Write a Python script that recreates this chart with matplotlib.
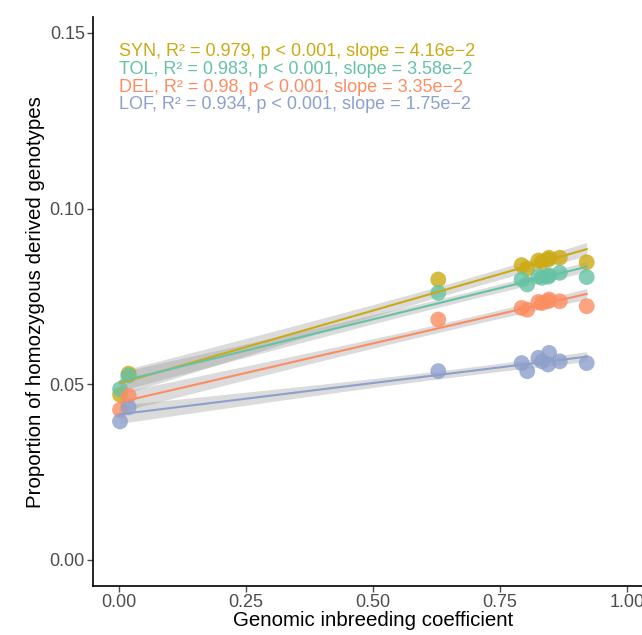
import numpy as np
import matplotlib.pyplot as plt

plt.rcParams['font.family'] = ['Liberation Sans', 'DejaVu Sans']

# genomic inbreeding coefficient per sample
f_inb = [0.003, 0.020, 0.629, 0.793, 0.804, 0.826, 0.833, 0.847, 0.845, 0.868, 0.921]

groups = ['SYN', 'TOL', 'DEL', 'LOF']
syn = [0.0470, 0.0530, 0.0798, 0.0839, 0.0829, 0.0852, 0.0848, 0.0860, 0.0855, 0.0860, 0.0847]
tol = [0.0486, 0.0525, 0.0760, 0.0798, 0.0784, 0.0807, 0.0803, 0.0810, 0.0806, 0.0817, 0.0805]
dele = [0.0427, 0.0467, 0.0684, 0.0717, 0.0712, 0.0734, 0.0731, 0.0741, 0.0736, 0.0736, 0.0722]
lof = [0.0394, 0.0434, 0.0537, 0.0560, 0.0537, 0.0575, 0.0565, 0.0589, 0.0556, 0.0565, 0.0560]
values = [syn, tol, dele, lof]

labels = ['SYN, R\u00b2 = 0.979, p < 0.001, slope = 4.16e\u22122',
          'TOL, R\u00b2 = 0.983, p < 0.001, slope = 3.58e\u22122',
          'DEL, R\u00b2 = 0.98, p < 0.001, slope = 3.35e\u22122',
          'LOF, R\u00b2 = 0.934, p < 0.001, slope = 1.75e\u22122']
colors = ['#CCAA14', '#66C2A5', '#FC8D62', '#8DA0CB']

fig = plt.figure(figsize=(6.42, 6.35), dpi=100)
ax = fig.add_axes([0.145, 0.077, 0.871, 0.896])

x = np.array(f_inb)
xs = np.linspace(x.min(), x.max(), 100)
n = len(x)
t_crit = 2.262  # t(0.975, df=9)

for g, y, c in zip(groups, values, colors):
    y = np.array(y)
    b, a = np.polyfit(x, y, 1)
    resid = y - (a + b * x)
    s = np.sqrt(np.sum(resid ** 2) / (n - 2))
    se = s * np.sqrt(1 / n + (xs - x.mean()) ** 2 / np.sum((x - x.mean()) ** 2))
    yf = a + b * xs
    ax.fill_between(xs, yf - t_crit * se, yf + t_crit * se, color='#999999', alpha=0.35, lw=0, zorder=1)

for g, y, c in zip(groups, values, colors):
    ax.scatter(x, y, s=130, color=c, alpha=0.8, edgecolors='none', zorder=2)

for g, y, c in zip(groups, values, colors):
    b, a = np.polyfit(x, np.array(y), 1)
    ax.plot(xs, a + b * xs, color=c, lw=1.5, zorder=3)

for i, (lab, c) in enumerate(zip(labels, colors)):
    ax.text(0.0, 0.1447 - i * 0.00505, lab, color=c, fontsize=13, va='center', ha='left')

ax.set_xlim(-0.05, 1.05)
ax.set_ylim(-0.0075, 0.1545)
ax.set_xticks([0, 0.25, 0.5, 0.75, 1.0])
ax.set_xticklabels(['0.00', '0.25', '0.50', '0.75', '1.00'])
ax.set_yticks([0, 0.05, 0.10, 0.15])
ax.set_yticklabels(['0.00', '0.05', '0.10', '0.15'])
ax.tick_params(labelsize=13, colors='#4D4D4D', length=4, width=1, pad=2)
for side in ['top', 'right']:
    ax.spines[side].set_visible(False)
for side in ['left', 'bottom']:
    ax.spines[side].set_linewidth(1.2)
ax.set_xlabel('Genomic inbreeding coefficient', fontsize=14.8, labelpad=0)
ax.set_ylabel('Proportion of homozygous derived genotypes', fontsize=14.8, labelpad=3)

fig.savefig('out.png', dpi=100)
